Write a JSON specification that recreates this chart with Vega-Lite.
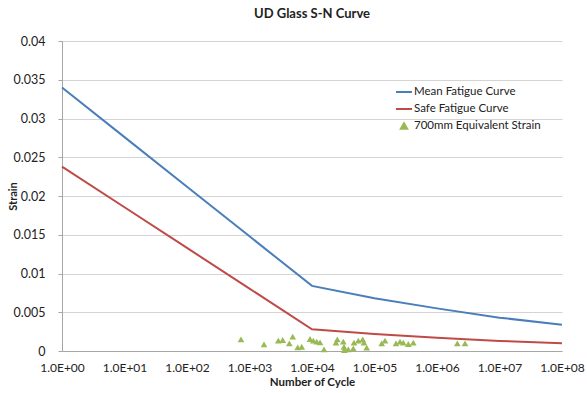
{
  "$schema": "https://vega.github.io/schema/vega-lite/v6.json",
  "width": 500,
  "height": 310,
  "autosize": {"type": "none"},
  "padding": {"left": 62, "top": 41, "right": 25, "bottom": 42},
  "background": "white",
  "title": {
    "text": "UD Glass S-N Curve",
    "font": "Lato",
    "fontSize": 13,
    "fontWeight": "bold",
    "color": "#222222",
    "anchor": "middle",
    "offset": 14
  },
  "datasets": {
    "curves": [
      {"cycles": 1, "strain": 0.034, "series": "Mean Fatigue Curve"},
      {"cycles": 10, "strain": 0.0276, "series": "Mean Fatigue Curve"},
      {"cycles": 100, "strain": 0.0212, "series": "Mean Fatigue Curve"},
      {"cycles": 1000, "strain": 0.0148, "series": "Mean Fatigue Curve"},
      {"cycles": 10000, "strain": 0.0084, "series": "Mean Fatigue Curve"},
      {"cycles": 100000, "strain": 0.0068, "series": "Mean Fatigue Curve"},
      {"cycles": 1000000, "strain": 0.0055, "series": "Mean Fatigue Curve"},
      {"cycles": 10000000, "strain": 0.0043, "series": "Mean Fatigue Curve"},
      {"cycles": 100000000, "strain": 0.0034, "series": "Mean Fatigue Curve"},
      {"cycles": 1, "strain": 0.0238, "series": "Safe Fatigue Curve"},
      {"cycles": 10, "strain": 0.01855, "series": "Safe Fatigue Curve"},
      {"cycles": 100, "strain": 0.0133, "series": "Safe Fatigue Curve"},
      {"cycles": 1000, "strain": 0.00805, "series": "Safe Fatigue Curve"},
      {"cycles": 10000, "strain": 0.0028, "series": "Safe Fatigue Curve"},
      {"cycles": 100000, "strain": 0.0022, "series": "Safe Fatigue Curve"},
      {"cycles": 1000000, "strain": 0.0017, "series": "Safe Fatigue Curve"},
      {"cycles": 10000000, "strain": 0.0013, "series": "Safe Fatigue Curve"},
      {"cycles": 100000000, "strain": 0.001, "series": "Safe Fatigue Curve"}
    ],
    "measured": [
      {"cycles": 731, "strain": 0.00151, "series": "700mm Equivalent Strain"},
      {"cycles": 1706, "strain": 0.00086, "series": "700mm Equivalent Strain"},
      {"cycles": 2890, "strain": 0.00133, "series": "700mm Equivalent Strain"},
      {"cycles": 3397, "strain": 0.00142, "series": "700mm Equivalent Strain"},
      {"cycles": 4335, "strain": 0.00099, "series": "700mm Equivalent Strain"},
      {"cycles": 4912, "strain": 0.00185, "series": "700mm Equivalent Strain"},
      {"cycles": 5902, "strain": 0.00048, "series": "700mm Equivalent Strain"},
      {"cycles": 6839, "strain": 0.00055, "series": "700mm Equivalent Strain"},
      {"cycles": 9290, "strain": 0.00155, "series": "700mm Equivalent Strain"},
      {"cycles": 10500, "strain": 0.00133, "series": "700mm Equivalent Strain"},
      {"cycles": 11890, "strain": 0.0012, "series": "700mm Equivalent Strain"},
      {"cycles": 13430, "strain": 0.00112, "series": "700mm Equivalent Strain"},
      {"cycles": 15560, "strain": 0.00022, "series": "700mm Equivalent Strain"},
      {"cycles": 24210, "strain": 0.00107, "series": "700mm Equivalent Strain"},
      {"cycles": 25410, "strain": 0.00151, "series": "700mm Equivalent Strain"},
      {"cycles": 31700, "strain": 0.0012, "series": "700mm Equivalent Strain"},
      {"cycles": 32510, "strain": 0.00055, "series": "700mm Equivalent Strain"},
      {"cycles": 32900, "strain": 0.00013, "series": "700mm Equivalent Strain"},
      {"cycles": 38100, "strain": 0.00022, "series": "700mm Equivalent Strain"},
      {"cycles": 45800, "strain": 0.00035, "series": "700mm Equivalent Strain"},
      {"cycles": 47000, "strain": 0.00107, "series": "700mm Equivalent Strain"},
      {"cycles": 55060, "strain": 0.00133, "series": "700mm Equivalent Strain"},
      {"cycles": 64730, "strain": 0.00151, "series": "700mm Equivalent Strain"},
      {"cycles": 67920, "strain": 0.00107, "series": "700mm Equivalent Strain"},
      {"cycles": 75000, "strain": 0.00043, "series": "700mm Equivalent Strain"},
      {"cycles": 130300, "strain": 0.00099, "series": "700mm Equivalent Strain"},
      {"cycles": 147200, "strain": 0.00133, "series": "700mm Equivalent Strain"},
      {"cycles": 220800, "strain": 0.00099, "series": "700mm Equivalent Strain"},
      {"cycles": 255900, "strain": 0.0012, "series": "700mm Equivalent Strain"},
      {"cycles": 289000, "strain": 0.00107, "series": "700mm Equivalent Strain"},
      {"cycles": 347500, "strain": 0.0009, "series": "700mm Equivalent Strain"},
      {"cycles": 417500, "strain": 0.00107, "series": "700mm Equivalent Strain"},
      {"cycles": 2113000, "strain": 0.00099, "series": "700mm Equivalent Strain"},
      {"cycles": 2806000, "strain": 0.00099, "series": "700mm Equivalent Strain"}
    ]
  },
  "encoding": {
    "x": {
      "field": "cycles",
      "type": "quantitative",
      "scale": {"type": "log", "domain": [1, 100000000], "nice": false},
      "axis": {
        "title": "Number of Cycle",
        "values": [1, 10, 100, 1000, 10000, 100000, 1000000, 10000000, 100000000],
        "labelExpr": "'1.0E+0' + round(log(datum.value) / LN10)",
        "grid": false,
        "ticks": false,
        "domainColor": "#a6a6a6",
        "labelPadding": 11,
        "labelFontSize": 12,
        "titlePadding": 3,
        "titleFontSize": 11.5,
        "labelOverlap": false,
        "labelFlush": false
      }
    },
    "y": {
      "field": "strain",
      "type": "quantitative",
      "scale": {"domain": [0, 0.04], "nice": false},
      "axis": {
        "title": "Strain",
        "values": [0, 0.005, 0.01, 0.015, 0.02, 0.025, 0.03, 0.035, 0.04],
        "format": "~g",
        "grid": true,
        "gridColor": "#d4d4d4",
        "domainColor": "#a6a6a6",
        "tickColor": "#a6a6a6",
        "tickSize": 4,
        "labelPadding": 13,
        "labelFontSize": 12.5,
        "titleFontSize": 11,
        "titleX": -44,
        "titleY": 155,
        "titleAngle": 270
      }
    },
    "color": {
      "field": "series",
      "type": "nominal",
      "scale": {
        "domain": ["Mean Fatigue Curve", "Safe Fatigue Curve", "700mm Equivalent Strain"],
        "range": ["#4a7ebb", "#be4b48", "#98b954"]
      },
      "legend": {
        "title": null,
        "orient": "none",
        "legendX": 333,
        "legendY": 42,
        "labelFontSize": 11.5,
        "labelFont": "Lato",
        "labelColor": "#222222",
        "rowPadding": 2,
        "symbolStrokeWidth": 2,
        "labelOffset": 1,
        "encode": {
          "symbols": {
            "update": {
              "stroke": {"scale": "color", "field": "value"},
              "size": {"signal": "datum.value === '700mm Equivalent Strain' ? 40 : 256"}
            }
          }
        }
      }
    },
    "shape": {
      "field": "series",
      "type": "nominal",
      "scale": {
        "domain": ["Mean Fatigue Curve", "Safe Fatigue Curve", "700mm Equivalent Strain"],
        "range": ["stroke", "stroke", "triangle-up"]
      }
    }
  },
  "layer": [
    {
      "data": {"name": "curves"},
      "mark": {"type": "line", "strokeWidth": 2},
      "encoding": {"shape": null}
    },
    {
      "data": {"name": "measured"},
      "mark": {"type": "point", "filled": true, "size": 45, "opacity": 1}
    }
  ],
  "config": {
    "font": "Lato",
    "view": {"stroke": null},
    "axis": {
      "labelFont": "Lato",
      "titleFont": "Lato",
      "labelColor": "#222222",
      "titleColor": "#222222",
      "titleFontWeight": "bold"
    }
  }
}
